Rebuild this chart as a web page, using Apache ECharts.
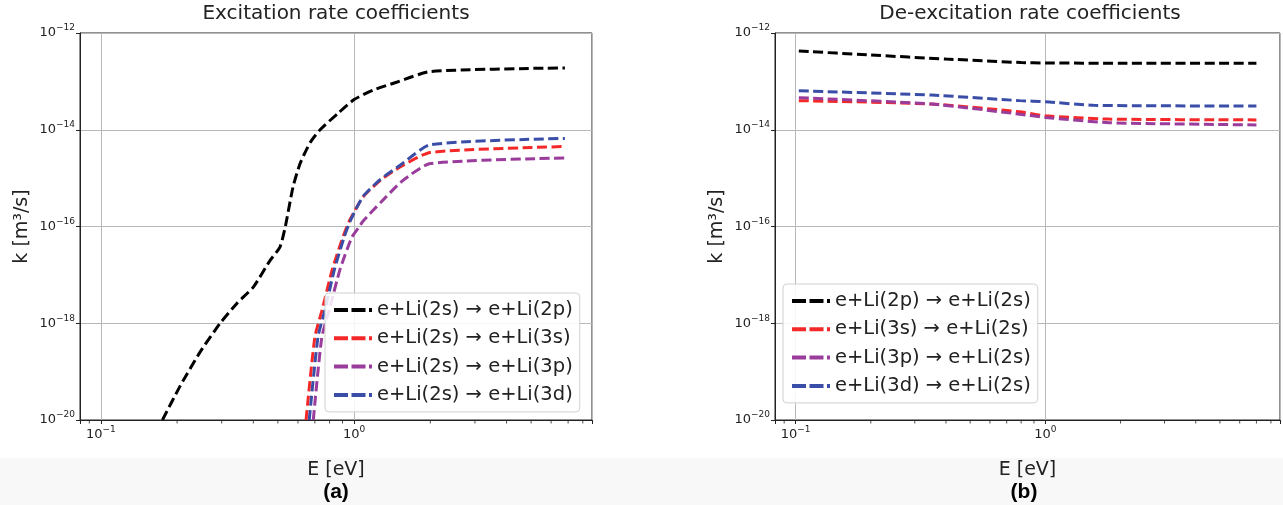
<!DOCTYPE html>
<html lang="en">
<head>
  <meta charset="UTF-8">
  <title>Rate coefficients</title>
  <script src="https://cdn.jsdelivr.net/npm/echarts@6/dist/echarts.min.js"></script>
  <style>
    html, body { margin: 0; padding: 0; background: #fff; }
    #main { width: 1283px; height: 505px; }
  </style>
</head>
<body>
<div id="main"></div>
<script type="text/javascript">
  // series names
  var excNames = ['e+Li(2s) \u2192 e+Li(2p)', 'e+Li(2s) \u2192 e+Li(3s)', 'e+Li(2s) \u2192 e+Li(3p)', 'e+Li(2s) \u2192 e+Li(3d)'];
  var deNames = ['e+Li(2p) \u2192 e+Li(2s)', 'e+Li(3s) \u2192 e+Li(2s)', 'e+Li(3p) \u2192 e+Li(2s)', 'e+Li(3d) \u2192 e+Li(2s)'];
  var colors = ['#000000', '#f42828', '#9a3c9c', '#3a4ea8'];

  // (a) excitation, [E eV, k m3/s]
  var exc2p = [[0.175, 1e-20], [0.205, 4.9e-20], [0.246, 2.5e-19], [0.295, 9.8e-19], [0.345, 2.6e-18],
    [0.40, 5.6e-18], [0.466, 2.0e-17], [0.51, 3.8e-17], [0.535, 1e-16], [0.574, 6.6e-16], [0.612, 2.0e-15],
    [0.67, 5.4e-15], [0.734, 1e-14], [0.865, 2.2e-14], [1.0, 4.2e-14], [1.19, 6.6e-14], [1.48, 9.7e-14],
    [2.0, 1.6e-13], [6.8, 1.9e-13]];
  var exc3s = [[0.646, 1e-20], [0.70, 5.2e-19], [0.748, 1.9e-18], [0.819, 1.26e-17], [0.905, 6.2e-17],
    [0.964, 1.4e-16], [1.086, 4.1e-16], [1.27, 9.0e-16], [1.52, 1.7e-15], [2.0, 3.4e-15], [6.8, 4.5e-15]];
  var exc3p = [[0.69, 1e-20], [0.745, 5e-19], [0.80, 2e-18], [0.88, 1.3e-17], [0.98, 6e-17], [1.05, 1e-16],
    [1.086, 1.3e-16], [1.27, 3.1e-16], [1.56, 9e-16], [2.0, 2.0e-15], [6.8, 2.6e-15]];
  var exc3d = [[0.665, 1e-20], [0.72, 5.2e-19], [0.768, 1.9e-18], [0.835, 1.26e-17], [0.915, 6.2e-17],
    [0.972, 1.4e-16], [1.086, 4.2e-16], [1.27, 9.4e-16], [1.52, 1.85e-15], [2.0, 4.9e-15], [6.8, 6.6e-15]];

  // (b) de-excitation
  var de2p = [[0.103, 4.25e-13], [0.2, 3.5e-13], [0.4, 2.9e-13], [0.8, 2.45e-13], [1.0, 2.4e-13], [2.0, 2.37e-13], [7.0, 2.37e-13]];
  var de3s = [[0.103, 4.0e-14], [0.35, 3.4e-14], [0.79, 2.35e-14], [1.0, 1.94e-14], [1.8, 1.66e-14], [7.0, 1.6e-14]];
  var de3p = [[0.103, 4.6e-14], [0.35, 3.4e-14], [0.79, 2.1e-14], [1.0, 1.8e-14], [1.8, 1.4e-14], [7.0, 1.26e-14]];
  var de3d = [[0.103, 6.4e-14], [0.35, 5.2e-14], [0.79, 4.0e-14], [1.0, 3.8e-14], [1.56, 3.2e-14], [7.0, 3.1e-14]];

  // minor ticks on the E axis
  var minorE = [0.09, 0.2, 0.3, 0.4, 0.5, 0.6, 0.7, 0.8, 0.9, 2, 3, 4, 5, 6, 7, 8];
  var eMin = 0.0827, eMax = 8.7;
  var kMin = 1e-20, kMax = 1e-12;

  var font = 'DejaVu Sans';

  function powLabel(v) {
    var e = Math.log10(v);
    var r = Math.round(e);
    if (Math.abs(e - r) > 1e-6) return '';
    return '{b|10}{s|' + (r < 0 ? '\u2212' : '') + Math.abs(r) + '}';
  }
  var rich = {
    b: { fontSize: 13, fontFamily: font, color: '#222' },
    s: { fontSize: 9, fontFamily: font, color: '#222', padding: [0, 0, 10, 0] }
  };

  function xAx(i) {
    return {
      type: 'log', gridIndex: i, min: eMin, max: eMax,
      name: 'E [eV]', nameLocation: 'middle', nameGap: 41,
      nameTextStyle: { fontSize: 19, fontFamily: font, color: '#222' },
      axisLine: { show: true, lineStyle: { color: '#222' } },
      axisTick: { show: true, length: 4, lineStyle: { color: '#222' } },
      axisLabel: { formatter: powLabel, rich: rich, margin: 5 },
      splitLine: { show: true, lineStyle: { color: '#b8b8b8' } }
    };
  }
  function yAx(i) {
    return {
      type: 'log', gridIndex: i, min: kMin, max: kMax, interval: 2,
      name: 'k [m\u00b3/s]', nameLocation: 'middle', nameGap: 48,
      nameTextStyle: { fontSize: 19, fontFamily: font, color: '#222' },
      axisLine: { show: true, lineStyle: { color: '#222' } },
      axisTick: { show: true, length: 4, lineStyle: { color: '#222' } },
      axisLabel: { formatter: powLabel, rich: rich, margin: 5 },
      splitLine: { show: true, lineStyle: { color: '#b8b8b8' } }
    };
  }

  function lineSeries(name, data, color, i) {
    return {
      name: name, type: 'line', data: data, xAxisIndex: i, yAxisIndex: i,
      showSymbol: false, symbol: 'none', clip: true, z: 3, smooth: 0.2,
      lineStyle: { color: color, width: 3, type: [10, 4.5] },
      itemStyle: { color: color }
    };
  }
  function tickSeries(i) {
    return {
      type: 'scatter', xAxisIndex: i, yAxisIndex: i, silent: true, clip: false,
      data: minorE.map(function (e) { return [e, kMin]; }),
      symbol: 'rect', symbolSize: [1, 3], symbolOffset: [0, 2],
      itemStyle: { color: '#222' }
    };
  }
  function legendBox(names, left, top) {
    return {
      data: names, left: left, top: top, orient: 'vertical', align: 'left',
      itemWidth: 38, itemHeight: 14, itemGap: 4.3, padding: [5, 7, 5, 7],
      itemStyle: { opacity: 0 },
      lineStyle: { width: 4, type: [14, 3.5] },
      backgroundColor: 'rgba(255,255,255,0.85)', borderColor: '#d0d0d0', borderWidth: 1, borderRadius: 4,
      textStyle: { fontSize: 19.5, lineHeight: 24, fontFamily: font, color: '#222' }
    };
  }

  var myChart = echarts.init(document.getElementById('main'));
  var series = [];
  [exc2p, exc3s, exc3p, exc3d].forEach(function (d, j) { series.push(lineSeries(excNames[j], d, colors[j], 0)); });
  [de2p, de3s, de3p, de3d].forEach(function (d, j) { series.push(lineSeries(deNames[j], d, colors[j], 1)); });
  series.push(tickSeries(0), tickSeries(1));

  myChart.setOption({
    animation: false,
    textStyle: { fontFamily: font },
    grid: [
      { left: 80, top: 33, width: 512, height: 387, show: true, borderColor: '#222', borderWidth: 1 },
      { left: 775, top: 33, width: 511, height: 387, show: true, borderColor: '#222', borderWidth: 1 }
    ],
    xAxis: [xAx(0), xAx(1)],
    yAxis: [yAx(0), yAx(1)],
    legend: [legendBox(excNames, 325, 293), legendBox(deNames, 783, 284)],
    graphic: [
      { type: 'rect', z: -100, shape: { x: 0, y: 458, width: 1283, height: 47 }, style: { fill: '#f8f8f8' } },
      { type: 'text', x: 336, y: 14, style: { text: 'Excitation rate coefficients', font: '20px "DejaVu Sans"', fill: '#222', align: 'center', verticalAlign: 'middle', textAlign: 'center', textVerticalAlign: 'middle' } },
      { type: 'text', x: 1030, y: 14, style: { text: 'De-excitation rate coefficients', font: '20px "DejaVu Sans"', fill: '#222', align: 'center', verticalAlign: 'middle', textAlign: 'center', textVerticalAlign: 'middle' } },
      { type: 'text', x: 336, y: 492, style: { text: '(a)', font: 'bold 21px "Liberation Sans"', fill: '#000', align: 'center', verticalAlign: 'middle', textAlign: 'center', textVerticalAlign: 'middle' } },
      { type: 'text', x: 1024, y: 492, style: { text: '(b)', font: 'bold 21px "Liberation Sans"', fill: '#000', align: 'center', verticalAlign: 'middle', textAlign: 'center', textVerticalAlign: 'middle' } }
    ],
    series: series
  });
</script>
</body>
</html>
